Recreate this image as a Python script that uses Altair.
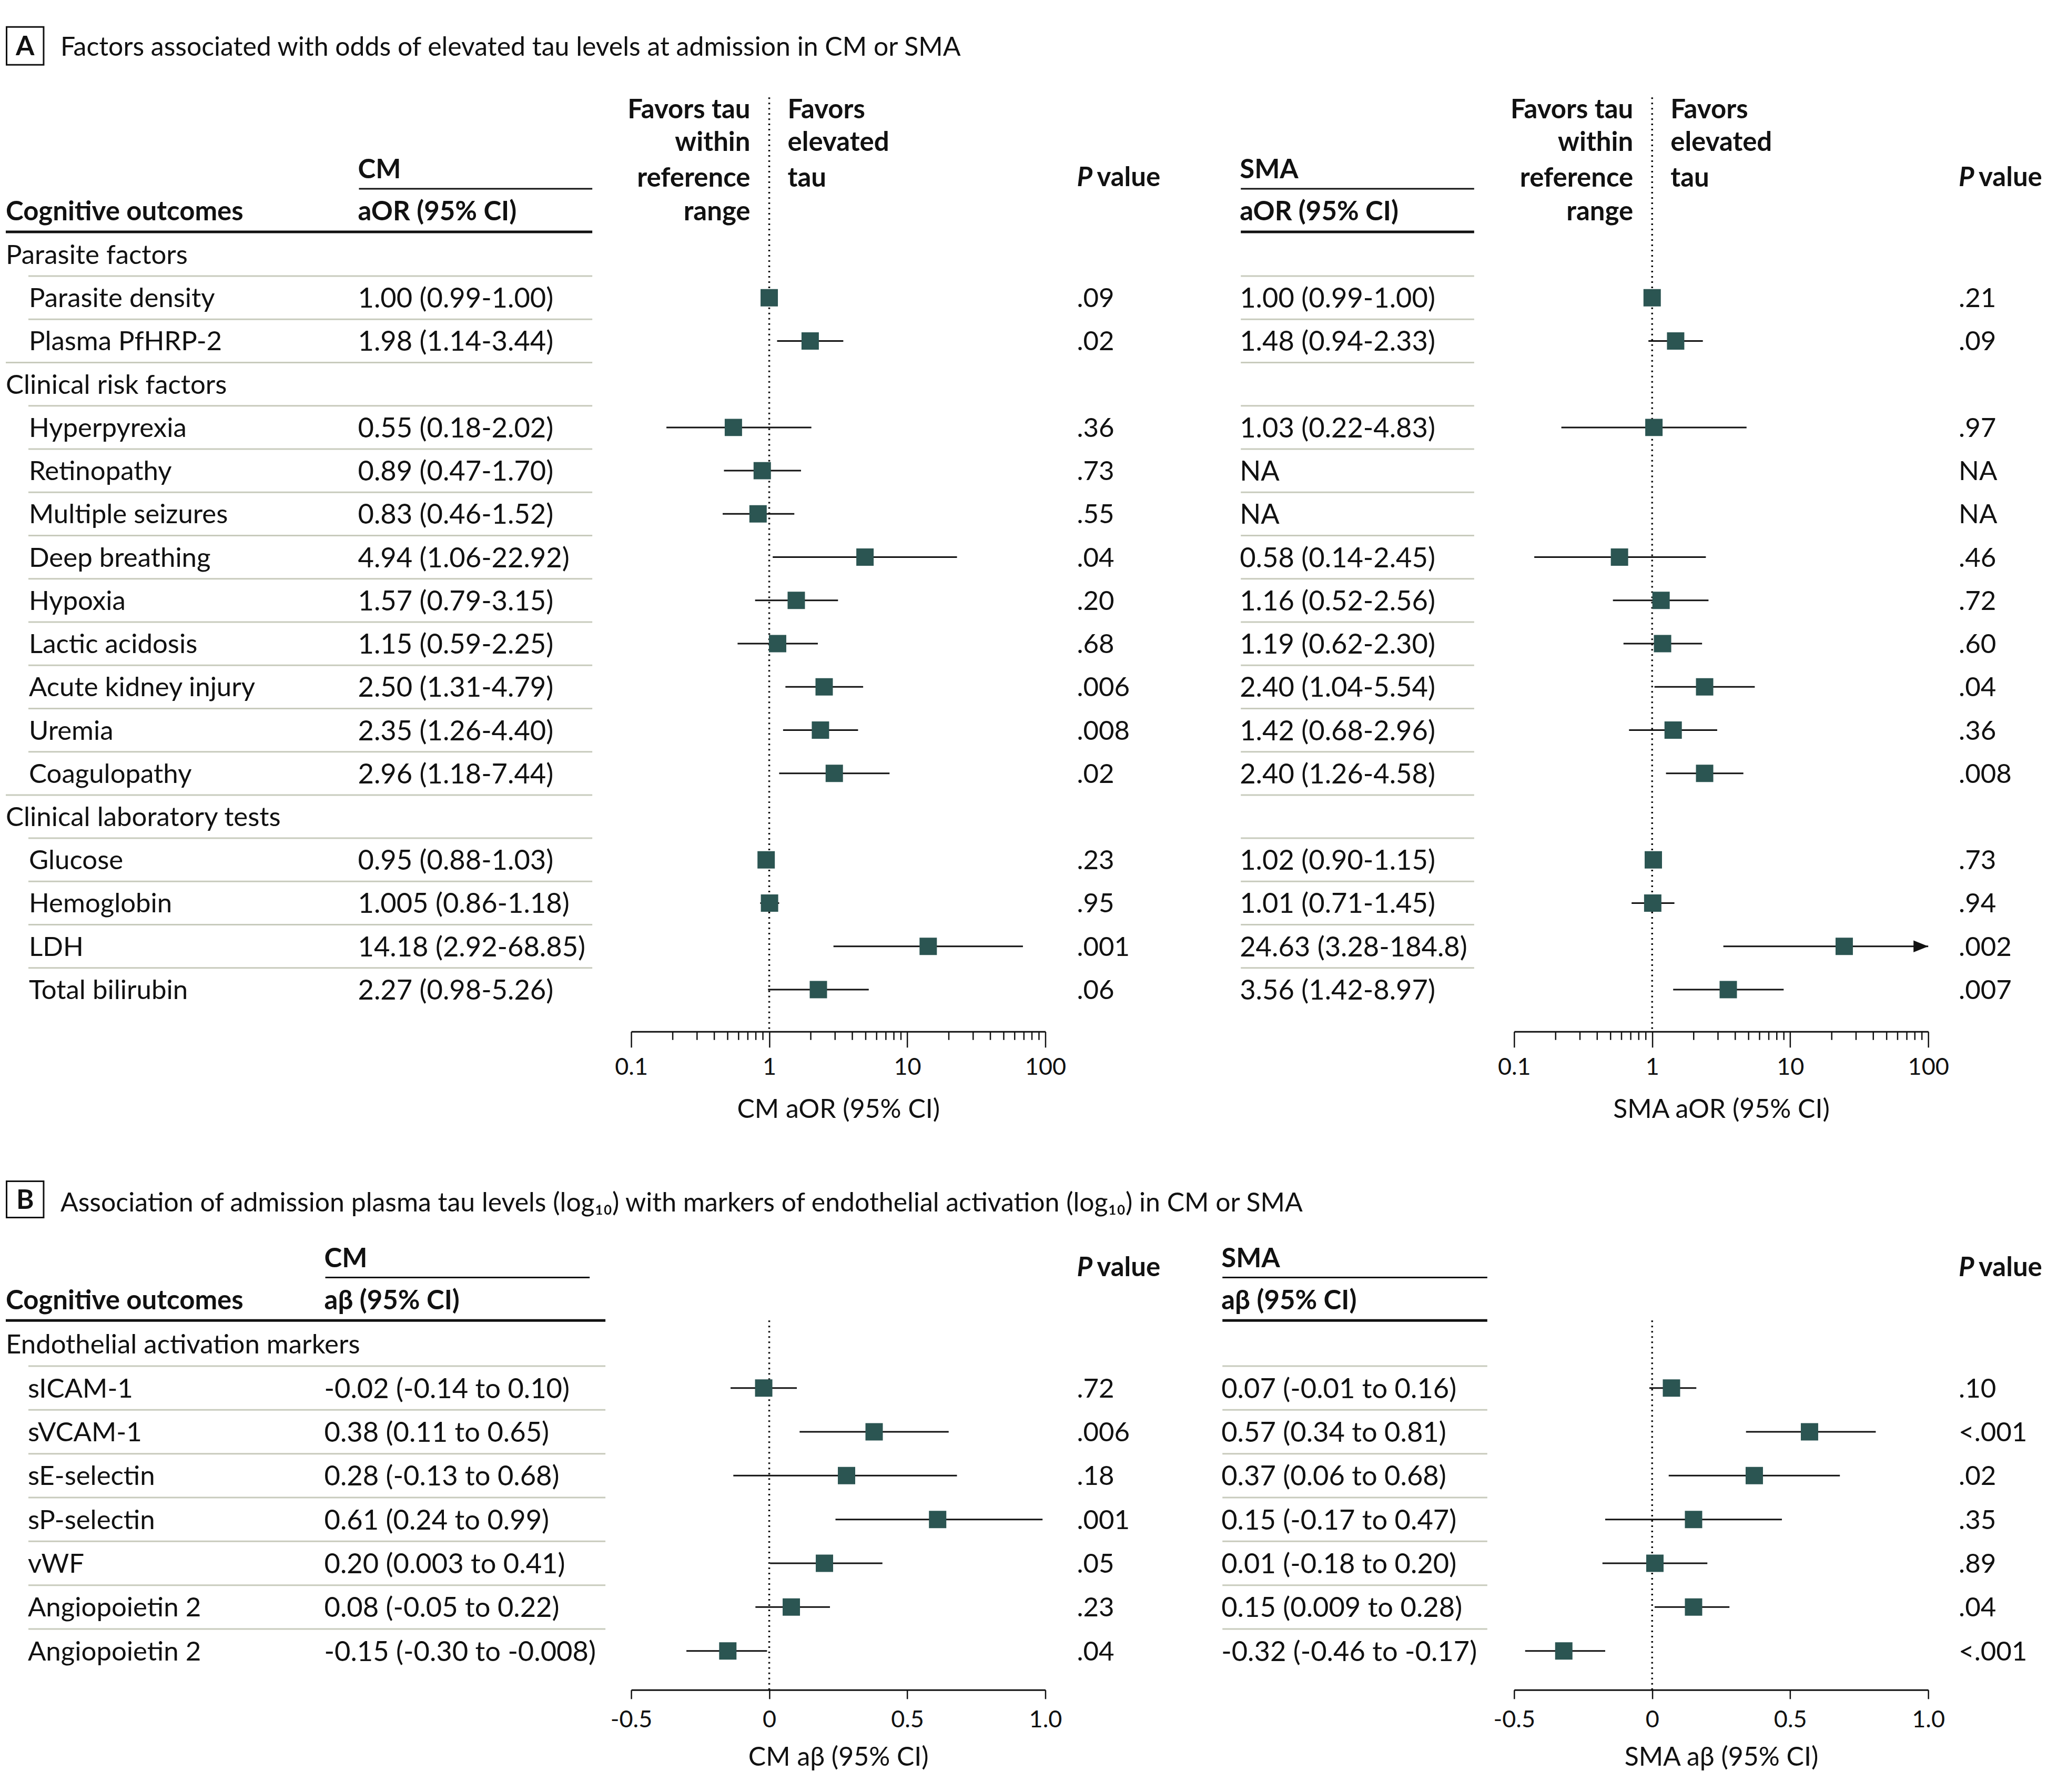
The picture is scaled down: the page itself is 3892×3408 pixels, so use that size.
import altair as alt
import pandas as pd

FONT = "Lato"
TXT = "#111111"
TEAL = "#2b5552"
SEP = "#c8cbbd"
FS = 51
FSV = 52.5

# ---------------- Section A data ----------------
A_TITLE = "Factors associated with odds of elevated tau levels at admission in CM or SMA"
a_labels = ["Parasite factors", "Parasite density", "Plasma PfHRP-2", "Clinical risk factors",
            "Hyperpyrexia", "Retinopathy", "Multiple seizures", "Deep breathing", "Hypoxia",
            "Lactic acidosis", "Acute kidney injury", "Uremia", "Coagulopathy",
            "Clinical laboratory tests", "Glucose", "Hemoglobin", "LDH", "Total bilirubin"]
a_is_cat = [True, False, False, True, False, False, False, False, False, False, False, False,
            False, True, False, False, False, False]
a_cm_text = ["", "1.00 (0.99-1.00)", "1.98 (1.14-3.44)", "", "0.55 (0.18-2.02)", "0.89 (0.47-1.70)",
             "0.83 (0.46-1.52)", "4.94 (1.06-22.92)", "1.57 (0.79-3.15)", "1.15 (0.59-2.25)",
             "2.50 (1.31-4.79)", "2.35 (1.26-4.40)", "2.96 (1.18-7.44)", "", "0.95 (0.88-1.03)",
             "1.005 (0.86-1.18)", "14.18 (2.92-68.85)", "2.27 (0.98-5.26)"]
a_cm_est = [None, 1.00, 1.98, None, 0.55, 0.89, 0.83, 4.94, 1.57, 1.15, 2.50, 2.35, 2.96, None,
            0.95, 1.005, 14.18, 2.27]
a_cm_lo = [None, 0.99, 1.14, None, 0.18, 0.47, 0.46, 1.06, 0.79, 0.59, 1.31, 1.26, 1.18, None,
           0.88, 0.86, 2.92, 0.98]
a_cm_hi = [None, 1.00, 3.44, None, 2.02, 1.70, 1.52, 22.92, 3.15, 2.25, 4.79, 4.40, 7.44, None,
           1.03, 1.18, 68.85, 5.26]
a_cm_p = ["", ".09", ".02", "", ".36", ".73", ".55", ".04", ".20", ".68", ".006", ".008", ".02", "",
          ".23", ".95", ".001", ".06"]
a_sma_text = ["", "1.00 (0.99-1.00)", "1.48 (0.94-2.33)", "", "1.03 (0.22-4.83)", "NA", "NA",
              "0.58 (0.14-2.45)", "1.16 (0.52-2.56)", "1.19 (0.62-2.30)", "2.40 (1.04-5.54)",
              "1.42 (0.68-2.96)", "2.40 (1.26-4.58)", "", "1.02 (0.90-1.15)", "1.01 (0.71-1.45)",
              "24.63 (3.28-184.8)", "3.56 (1.42-8.97)"]
a_sma_est = [None, 1.00, 1.48, None, 1.03, None, None, 0.58, 1.16, 1.19, 2.40, 1.42, 2.40, None,
             1.02, 1.01, 24.63, 3.56]
a_sma_lo = [None, 0.99, 0.94, None, 0.22, None, None, 0.14, 0.52, 0.62, 1.04, 0.68, 1.26, None,
            0.90, 0.71, 3.28, 1.42]
a_sma_hi = [None, 1.00, 2.33, None, 4.83, None, None, 2.45, 2.56, 2.30, 5.54, 2.96, 4.58, None,
            1.15, 1.45, 184.8, 8.97]
a_sma_p = ["", ".21", ".09", "", ".97", "NA", "NA", ".46", ".72", ".60", ".04", ".36", ".008", "",
           ".73", ".94", ".002", ".007"]
a_minor = [0.2, 0.3, 0.4, 0.5, 0.6, 0.7, 0.8, 0.9, 2, 3, 4, 5, 6, 7, 8, 9,
           20, 30, 40, 50, 60, 70, 80, 90]
a_ticks = [0.1, 1, 10, 100]

# ---------------- Section B data ----------------
B_TITLE = ("Association of admission plasma tau levels (log\u2081\u2080) with markers of "
           "endothelial activation (log\u2081\u2080) in CM or SMA")
b_labels = ["Endothelial activation markers", "sICAM-1", "sVCAM-1", "sE-selectin", "sP-selectin",
            "vWF", "Angiopoietin 2", "Angiopoietin 2"]
b_is_cat = [True, False, False, False, False, False, False, False]
b_cm_text = ["", "-0.02 (-0.14 to 0.10)", "0.38 (0.11 to 0.65)", "0.28 (-0.13 to 0.68)",
             "0.61 (0.24 to 0.99)", "0.20 (0.003 to 0.41)", "0.08 (-0.05 to 0.22)",
             "-0.15 (-0.30 to -0.008)"]
b_cm_est = [None, -0.02, 0.38, 0.28, 0.61, 0.20, 0.08, -0.15]
b_cm_lo = [None, -0.14, 0.11, -0.13, 0.24, 0.003, -0.05, -0.30]
b_cm_hi = [None, 0.10, 0.65, 0.68, 0.99, 0.41, 0.22, -0.008]
b_cm_p = ["", ".72", ".006", ".18", ".001", ".05", ".23", ".04"]
b_sma_text = ["", "0.07 (-0.01 to 0.16)", "0.57 (0.34 to 0.81)", "0.37 (0.06 to 0.68)",
              "0.15 (-0.17 to 0.47)", "0.01 (-0.18 to 0.20)", "0.15 (0.009 to 0.28)",
              "-0.32 (-0.46 to -0.17)"]
b_sma_est = [None, 0.07, 0.57, 0.37, 0.15, 0.01, 0.15, -0.32]
b_sma_lo = [None, -0.01, 0.34, 0.06, -0.17, -0.18, 0.009, -0.46]
b_sma_hi = [None, 0.16, 0.81, 0.68, 0.47, 0.20, 0.28, -0.17]
b_sma_p = ["", ".10", "<.001", ".02", ".35", ".89", ".04", "<.001"]
b_ticks = [-0.5, 0, 0.5, 1.0]

favors_left = ["Favors tau", "within", "reference", "range"]
favors_right = ["Favors", "elevated", "tau"]

# ---------------- layout ----------------
W1, WF, W3, W5 = 1190, 788, 892, 218
HA, HB = 1954, 1015
GAP = 64
A_ROW0, A_STEP = 483, 82.3
B_ROW0, B_STEP = 2557, 83.4


def va(y):
    return (y - A_ROW0) / A_STEP


def vb(y):
    return (y - B_ROW0) / B_STEP


A_DOM = [va(8), va(1962)]
B_DOM = [vb(2200), vb(3215)]


def yenc(dom):
    return alt.Y("row:Q", scale=alt.Scale(domain=dom, reverse=True, nice=False, zero=False),
                 axis=None)


def texts(rows, txts, x, dom, weight="normal", style="normal", align="left", size=FS):
    df = pd.DataFrame({"row": rows, "txt": txts})
    df = df[df.txt != ""]
    return alt.Chart(df).mark_text(
        align=align, baseline="middle", dy=3, font=FONT, fontSize=size,
        fontWeight=weight, fontStyle=style, color=TXT
    ).encode(x=alt.value(x), y=yenc(dom), text="txt:N")


def hlines(rows, x0, x1, dom, color, width):
    df = pd.DataFrame({"row": rows, "x0": x0, "x1": x1})
    return alt.Chart(df).mark_rule(color=color, strokeWidth=width).encode(
        x=alt.X("x0:Q", scale=None, axis=None), x2="x1:Q", y=yenc(dom))


def box(letter, x0, x1, y0, y1):
    one = pd.DataFrame({"txt": [letter]})
    rect = alt.Chart(one).mark_rect(fillOpacity=0, stroke=TXT, strokeWidth=3).encode(
        x=alt.value(x0), x2=alt.value(x1), y=alt.value(y0), y2=alt.value(y1))
    lab = alt.Chart(one).mark_text(
        font=FONT, fontSize=FS, fontWeight="bold", color=TXT, align="center",
        baseline="middle", dy=3).encode(
        x=alt.value((x0 + x1) / 2), y=alt.value((y0 + y1) / 2), text="txt:N")
    return [rect, lab]


def pvalue_header(x, row, dom):
    return [texts([row], ["P"], x, dom, weight="bold", style="italic"),
            texts([row], ["value"], x + 38, dom, weight="bold")]


def make_axis(values, label_expr, title, tick, lab_pad, title_y):
    return alt.Axis(values=values, labelExpr=label_expr, title=title, grid=False,
                    domainColor=TXT, domainWidth=3, tickColor=TXT, tickWidth=2.5,
                    tickSize=tick, labelFont=FONT, labelFontSize=45, labelColor=TXT,
                    labelPadding=lab_pad, labelBaseline="middle", labelFlush=False,
                    labelOverlap=False, titleFont=FONT, titleFontSize=50,
                    titleFontWeight="normal", titleColor=TXT, titleX=WF / 2, titleY=title_y,
                    titleBaseline="middle", titleAlign="center", titleAngle=0)


ARROW = "M0,0L-2,-0.8L-2,0.8Z"


def forest(est, lo, hi, scale, axis, dom, H, ref, ref_top, fav_rows=None, minor=None,
           minor_len=16):
    def X(f):
        return alt.X(f"{f}:Q", scale=scale, axis=axis)

    y = yenc(dom)
    df = pd.DataFrame({"row": list(range(len(est))), "est": est, "lo": lo, "hi": hi})
    df = df.dropna()
    layers = []
    layers.append(alt.Chart(df).mark_rule(color=TXT, strokeWidth=3).encode(
        x=X("lo"), x2="hi:Q", y=y))
    rdf = pd.DataFrame({"x": [ref], "row": [ref_top], "row2": [dom[1]]})
    layers.append(alt.Chart(rdf).mark_rule(color=TXT, strokeWidth=3.5, strokeDash=[3, 7]).encode(
        x=X("x"), y=y, y2="row2:Q"))
    layers.append(alt.Chart(df).mark_square(size=1089, color=TEAL, opacity=1).encode(
        x=X("est"), y=y))
    dmax = scale.domain[1]
    over = df[df.hi > dmax]
    if len(over):
        layers.append(alt.Chart(over).mark_point(
            shape=ARROW, filled=True, size=784, color=TXT, opacity=1, strokeWidth=0).encode(
            x=X("hi"), y=y))
    if fav_rows is not None:
        ldf = pd.DataFrame({"x": ref, "row": fav_rows, "txt": favors_left})
        rdf2 = pd.DataFrame({"x": ref, "row": fav_rows[:3], "txt": favors_right})
        layers.append(alt.Chart(ldf).mark_text(
            align="right", baseline="middle", dx=-36, dy=3, font=FONT, fontSize=FS,
            fontWeight="bold", color=TXT).encode(x=X("x"), y=y, text="txt:N"))
        layers.append(alt.Chart(rdf2).mark_text(
            align="left", baseline="middle", dx=35, dy=3, font=FONT, fontSize=FS,
            fontWeight="bold", color=TXT).encode(x=X("x"), y=y, text="txt:N"))
    if minor is not None:
        mdf = pd.DataFrame({"t": minor})
        layers.append(alt.Chart(mdf).mark_rule(color=TXT, strokeWidth=2.5).encode(
            x=X("t"), y=alt.value(H), y2=alt.value(H + minor_len)))
    return alt.layer(*layers).properties(width=WF, height=H)


# ================= Section A =================
nA = len(a_labels)
rowsA = list(range(nA))
cat_rows = [i for i in rowsA if a_is_cat[i]]
item_rows = [i for i in rowsA if not a_is_cat[i]]
sep_rows = [i - 0.5 for i in rowsA[1:]]
sep_x0 = [0 if a_is_cat[i] else 43 for i in rowsA[1:]]

pA1 = alt.layer(
    *box("A", 1.5, 72, 42, 114),
    texts([va(87)], [A_TITLE], 104, A_DOM, size=50),
    texts([va(400)], ["Cognitive outcomes"], 0, A_DOM, weight="bold"),
    texts([va(320)], ["CM"], 670, A_DOM, weight="bold"),
    texts([va(400)], ["aOR (95% CI)"], 670, A_DOM, weight="bold"),
    hlines([va(358)], 672, 1116, A_DOM, TXT, 3),
    hlines([va(440)], 0, 1116, A_DOM, TXT, 5),
    hlines(sep_rows, sep_x0, 1116, A_DOM, SEP, 3),
    texts(cat_rows, [a_labels[i] for i in cat_rows], 0, A_DOM),
    texts(item_rows, [a_labels[i] for i in item_rows], 44, A_DOM),
    texts(rowsA, a_cm_text, 670, A_DOM, size=FSV),
).properties(width=W1, height=HA)

logscale = alt.Scale(type="log", domain=[0.1, 100], clamp=True, nice=False)
lab_log = "datum.value < 0.5 ? '0.1' : format(datum.value, 'd')"
fav_rows_A = [va(206), va(268), va(336), va(400)]

pA2 = forest(a_cm_est, a_cm_lo, a_cm_hi, logscale,
             make_axis(a_ticks, lab_log, "CM aOR (95% CI)", 30, 37.7, 149),
             A_DOM, HA, 1, va(184), fav_rows_A, a_minor, 16)

pA3 = alt.layer(
    *pvalue_header(60, va(335), A_DOM),
    texts(rowsA, a_cm_p, 60, A_DOM),
    texts([va(320)], ["SMA"], 370, A_DOM, weight="bold"),
    texts([va(400)], ["aOR (95% CI)"], 370, A_DOM, weight="bold"),
    hlines([va(358)], 372, 816, A_DOM, TXT, 3),
    hlines([va(440)], 372, 816, A_DOM, TXT, 5),
    hlines(sep_rows, 372, 816, A_DOM, SEP, 3),
    texts(rowsA, a_sma_text, 370, A_DOM, size=FSV),
).properties(width=W3, height=HA)

pA4 = forest(a_sma_est, a_sma_lo, a_sma_hi, logscale,
             make_axis(a_ticks, lab_log, "SMA aOR (95% CI)", 30, 37.7, 149),
             A_DOM, HA, 1, va(184), fav_rows_A, a_minor, 16)

pA5 = alt.layer(
    *pvalue_header(58, va(335), A_DOM),
    texts(rowsA, a_sma_p, 58, A_DOM),
).properties(width=W5, height=HA)

secA = alt.hconcat(pA1, pA2, pA3, pA4, pA5, spacing=0, bounds="flush")

# ================= Section B =================
nB = len(b_labels)
rowsB = list(range(nB))
catB = [i for i in rowsB if b_is_cat[i]]
itemB = [i for i in rowsB if not b_is_cat[i]]
sepB = [i - 0.5 for i in rowsB[1:]]
sepB_cm = [i - 0.5 for i in rowsB[1:] if not b_is_cat[i]]

pB1 = alt.layer(
    *box("B", 1.5, 72, 47, 116),
    texts([vb(2286)], [B_TITLE], 104, B_DOM, size=50),
    texts([vb(2473)], ["Cognitive outcomes"], 0, B_DOM, weight="bold"),
    texts([vb(2393)], ["CM"], 606, B_DOM, weight="bold"),
    texts([vb(2473)], ["a\u03b2 (95% CI)"], 606, B_DOM, weight="bold"),
    hlines([vb(2430)], 608, 1111, B_DOM, TXT, 3),
    hlines([vb(2512)], 0, 1141, B_DOM, TXT, 5),
    hlines(sepB_cm, 43, 1141, B_DOM, SEP, 3),
    texts(catB, [b_labels[i] for i in catB], 0, B_DOM),
    texts(itemB, [b_labels[i] for i in itemB], 42, B_DOM),
    texts(rowsB, b_cm_text, 606, B_DOM, size=FSV),
).properties(width=W1, height=HB)

linscale = alt.Scale(type="linear", domain=[-0.5, 1.0], clamp=True, nice=False, zero=False)
lab_lin = ("datum.value == 0 ? '0' : (datum.value < 0 ? '-' + format(-datum.value, '.1f') "
           ": format(datum.value, '.1f'))")

pB2 = forest(b_cm_est, b_cm_lo, b_cm_hi, linscale,
             make_axis(b_ticks, lab_lin, "CM a\u03b2 (95% CI)", 17, 39.7, 129),
             B_DOM, HB, 0, vb(2512))

pB3 = alt.layer(
    *pvalue_header(60, vb(2410), B_DOM),
    texts(rowsB, b_cm_p, 60, B_DOM),
    texts([vb(2393)], ["SMA"], 335, B_DOM, weight="bold"),
    texts([vb(2473)], ["a\u03b2 (95% CI)"], 335, B_DOM, weight="bold"),
    hlines([vb(2430)], 337, 841, B_DOM, TXT, 3),
    hlines([vb(2512)], 337, 841, B_DOM, TXT, 5),
    hlines(sepB, 337, 841, B_DOM, SEP, 3),
    texts(rowsB, b_sma_text, 335, B_DOM, size=FSV),
).properties(width=W3, height=HB)

pB4 = forest(b_sma_est, b_sma_lo, b_sma_hi, linscale,
             make_axis(b_ticks, lab_lin, "SMA a\u03b2 (95% CI)", 17, 39.7, 129),
             B_DOM, HB, 0, vb(2512))

pB5 = alt.layer(
    *pvalue_header(58, vb(2410), B_DOM),
    texts(rowsB, b_sma_p, 58, B_DOM),
).properties(width=W5, height=HB)

secB = alt.hconcat(pB1, pB2, pB3, pB4, pB5, spacing=0, bounds="flush")

chart = alt.vconcat(secA, secB, spacing=GAP).properties(
    padding=0, background="white"
).configure(font=FONT).configure_view(stroke=None)

chart.save("out.html", embed_options={"renderer": "svg", "actions": False})
